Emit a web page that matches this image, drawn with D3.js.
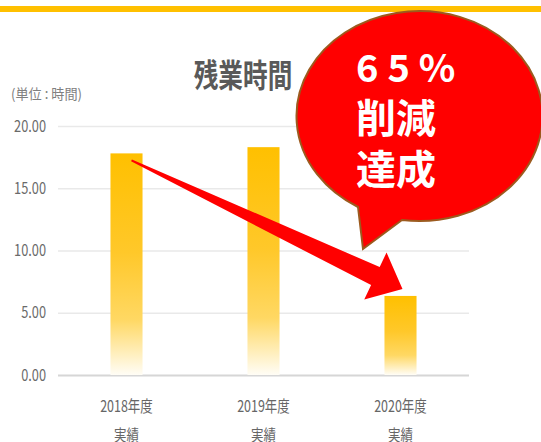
<!DOCTYPE html>
<html>
<head>
<meta charset="utf-8">
<script src="https://cdn.jsdelivr.net/npm/d3@7"></script>
<style>
  html, body { margin: 0; padding: 0; background: #fff; }
  svg { display: block; }
  text { font-family: "Noto Sans CJK JP", "Noto Sans", sans-serif; }
</style>
</head>
<body>
<svg id="chart" width="541" height="442"></svg>
<script>
// Overtime hours per fiscal year (results)
const categories = ["2018年度", "2019年度", "2020年度"];
const subLabels = ["実績", "実績", "実績"];
const hours = [17.8, 18.3, 6.35];
const yTicks = [0, 5, 10, 15, 20];
const title = "残業時間";
const unitLabel = "(単位 : 時間)";
const calloutLines = ["65%", "削減", "達成"];

const W = 541, H = 442;
const plot = { left: 58, right: 469, top: 126, bottom: 375 };

const svg = d3.select("#chart");
const defs = svg.append("defs");

// vertical fade for the bars: solid amber at the top, paling to white at the base
const grad = defs.append("linearGradient")
  .attr("id", "barFade").attr("x1", 0).attr("y1", 0).attr("x2", 0).attr("y2", 1);
grad.append("stop").attr("offset", "0%").attr("stop-color", "#FFC000");
grad.append("stop").attr("offset", "45%").attr("stop-color", "#FFC82A");
grad.append("stop").attr("offset", "75%").attr("stop-color", "#FFD863");
grad.append("stop").attr("offset", "100%").attr("stop-color", "#FFFDF6");

defs.append("filter").attr("id", "soft")
  .append("feGaussianBlur").attr("stdDeviation", 0.6);

// top accent rule
svg.append("rect").attr("x", 0).attr("y", 6).attr("width", W).attr("height", 6)
  .attr("fill", "#FFC000");

const x = d3.scaleBand().domain(categories)
  .range([plot.left, plot.right]).paddingInner(0.766).paddingOuter(0.383);
const y = d3.scaleLinear().domain([0, 20]).range([plot.bottom, plot.top]);

// y axis with full-width gridlines
const yAxis = svg.append("g").attr("transform", `translate(${plot.left},0)`)
  .call(d3.axisLeft(y).tickValues(yTicks).tickFormat(d3.format(".2f"))
    .tickSize(-(plot.right - plot.left)).tickPadding(0));
yAxis.select(".domain").remove();
yAxis.selectAll(".tick line")
  .attr("stroke", d => d === 0 ? "#D6D6D6" : "#E9E9E9")
  .attr("stroke-width", d => d === 0 ? 2 : 1.5);
yAxis.selectAll(".tick text")
  .attr("x", 0)
  .attr("transform", "translate(-12,0) scale(0.8,1)")
  .attr("font-size", 16)
  .attr("fill", "#6a6a6a")
  .attr("font-family", "'Noto Sans CJK JP', sans-serif");

// bars
svg.append("g").selectAll("rect").data(hours).join("rect")
  .attr("x", (d, i) => x(categories[i]))
  .attr("y", d => y(d))
  .attr("width", x.bandwidth())
  .attr("height", d => y(0) - y(d))
  .attr("fill", "url(#barFade)");

// x axis: year + "実績" on two lines
const xAxis = svg.append("g").attr("transform", `translate(0,${plot.bottom})`)
  .call(d3.axisBottom(x).tickSize(0).tickPadding(0));
xAxis.select(".domain").remove();
xAxis.selectAll(".tick text").each(function (d, i) {
  const t = d3.select(this);
  t.text(null).attr("y", 37).attr("dy", null)
    .attr("font-size", 16).attr("fill", "#666")
    .attr("font-family", "'Noto Sans CJK JP', sans-serif")
    .attr("transform", "scale(0.78,1)");
  t.append("tspan").attr("x", 0).text(d);
  t.append("tspan").attr("x", 0).attr("dy", 29).text(subLabels[i]);
});

// title and unit
svg.append("text")
  .attr("transform", "translate(243,87) scale(0.77,1)")
  .attr("text-anchor", "middle").attr("font-size", 32).attr("font-weight", 700)
  .attr("fill", "#595959").text(title);
svg.append("text")
  .attr("transform", "translate(11,99) scale(0.94,1)")
  .attr("font-size", 14).attr("fill", "#808080").text(unitLabel);

// tapered arrow from the 2018 bar down to the 2020 bar
const bw = x.bandwidth();
const sx = x(categories[0]) + bw / 2 + 5, sy = y(hours[0]) + 7;
const tx = x(categories[2]) + bw / 2 + 2, ty = y(hours[2]) - 7;
const dx = tx - sx, dy = ty - sy, len = Math.hypot(dx, dy);
const ux = dx / len, uy = dy / len, nx = -uy, ny = ux;
const headLen = 30, shaftHalf = 10, headHalf = 26, tailHalf = 1;
const bx = tx - ux * headLen, by = ty - uy * headLen;
const pt = (px, py, k) => [px + nx * k, py + ny * k];
const arrowPts = [
  pt(sx, sy, -tailHalf),
  pt(bx, by, -shaftHalf),
  pt(bx, by, -headHalf),
  [tx, ty],
  pt(bx, by, headHalf),
  pt(bx, by, shaftHalf),
  pt(sx, sy, tailHalf)
];
svg.append("path")
  .attr("d", d3.line()(arrowPts) + "Z")
  .attr("fill", "#FF0000").attr("filter", "url(#soft)");

// speech balloon
const cx = 420, cy = 116, rx = 123, ry = 105;
const tailL = [358, 207], tailR = [402, 220], tailTip = [363, 249];
svg.append("path")
  .attr("d", `M${tailR[0]},${tailR[1]} A${rx},${ry} 0 1 0 ${tailL[0]},${tailL[1]} L${tailTip[0]},${tailTip[1]} Z`)
  .attr("fill", "#FF0000").attr("stroke", "#9C5A1E").attr("stroke-width", 2)
  .attr("stroke-linejoin", "miter");

const callout = svg.append("g").attr("fill", "#fff").attr("font-weight", 700);
callout.append("text").attr("x", 356).attr("y", 82)
  .attr("font-size", 38).attr("letter-spacing", 9).text(calloutLines[0]);
callout.append("text").attr("x", 356).attr("y", 133)
  .attr("font-size", 40).text(calloutLines[1]);
callout.append("text").attr("x", 356).attr("y", 184)
  .attr("font-size", 40).text(calloutLines[2]);
</script>
</body>
</html>
